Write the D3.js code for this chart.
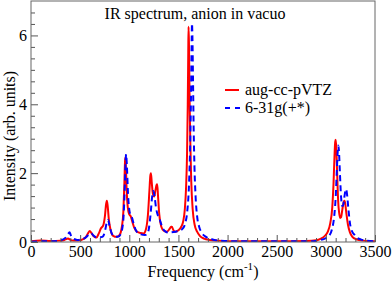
<!DOCTYPE html>
<html>
<head>
<meta charset="utf-8">
<script src="https://cdn.jsdelivr.net/npm/d3@7"></script>
<style>
  body { margin: 0; background: #fff; }
  svg { display: block; }
  svg text { font-family: "Liberation Serif", "DejaVu Serif", serif; }
</style>
</head>
<body>
<div id="chart"></div>
<script>
// IR spectrum data: [frequency cm-1, intensity]
const augccpVTZ = [
  [0, 0.02], [100, 0.04], [200, 0.03], [300, 0.04], [340, 0.06], [365, 0.09], [378, 0.1],
  [395, 0.07], [430, 0.04], [480, 0.04], [530, 0.08], [560, 0.15], [580, 0.25], [598, 0.32],
  [615, 0.26], [640, 0.16], [666, 0.13], [690, 0.25], [712, 0.4], [735, 0.48], [752, 0.75],
  [764, 1.1], [772, 1.2], [780, 1.05], [792, 0.65], [810, 0.35], [836, 0.18], [870, 0.15],
  [900, 0.2], [925, 0.45], [940, 0.9], [950, 1.7], [956, 2.3], [959, 2.45], [964, 2.3],
  [972, 1.6], [985, 1.0], [1000, 0.8], [1014, 0.75], [1028, 0.62], [1050, 0.42], [1080, 0.3],
  [1115, 0.26], [1145, 0.25], [1170, 0.38], [1190, 0.8], [1205, 1.5], [1214, 1.92], [1220, 2.0],
  [1228, 1.75], [1240, 1.4], [1254, 1.32], [1266, 1.5], [1278, 1.66], [1284, 1.68], [1292, 1.35],
  [1305, 0.8], [1325, 0.45], [1350, 0.33], [1383, 0.3], [1410, 0.38], [1425, 0.44], [1433, 0.44],
  [1448, 0.35], [1468, 0.3], [1500, 0.34], [1530, 0.45], [1550, 0.62], [1565, 0.95], [1578, 1.6],
  [1588, 2.6], [1595, 4.0], [1600, 5.5], [1603, 6.25], [1607, 5.8], [1613, 4.3], [1620, 3.0],
  [1630, 1.8], [1645, 0.95], [1665, 0.5], [1690, 0.3], [1720, 0.17], [1760, 0.1], [1820, 0.06],
  [1900, 0.04], [2100, 0.02], [2500, 0.02], [2800, 0.03], [2900, 0.05], [2950, 0.1], [2990, 0.18],
  [3020, 0.3], [3045, 0.55], [3065, 1.0], [3078, 1.7], [3088, 2.5], [3095, 2.9], [3100, 2.97],
  [3106, 2.75], [3115, 2.0], [3125, 1.2], [3135, 0.85], [3145, 0.7], [3155, 0.72], [3168, 0.95],
  [3180, 1.15], [3190, 1.2], [3198, 1.1], [3210, 0.8], [3225, 0.5], [3245, 0.28], [3270, 0.15],
  [3310, 0.08], [3380, 0.04], [3500, 0.02]
];

const basis631g = [
  [0, 0.01], [100, 0.02], [200, 0.02], [300, 0.05], [350, 0.12], [375, 0.22], [392, 0.28],
  [405, 0.2], [430, 0.1], [470, 0.06], [520, 0.08], [560, 0.14], [590, 0.22], [612, 0.26],
  [632, 0.2], [660, 0.14], [684, 0.13], [710, 0.14], [734, 0.17], [755, 0.35], [772, 0.58],
  [784, 0.64], [798, 0.48], [820, 0.26], [850, 0.16], [885, 0.15], [915, 0.25], [938, 0.6],
  [952, 1.4], [962, 2.3], [968, 2.55], [975, 2.25], [987, 1.4], [1003, 0.88], [1018, 0.75],
  [1028, 0.7], [1045, 0.52], [1075, 0.3], [1120, 0.22], [1160, 0.2], [1180, 0.22], [1200, 0.4],
  [1218, 0.85], [1232, 1.3], [1245, 1.48], [1256, 1.35], [1272, 1.0], [1290, 0.78], [1302, 0.73],
  [1318, 0.58], [1340, 0.4], [1370, 0.3], [1400, 0.27], [1430, 0.28], [1470, 0.3], [1510, 0.33],
  [1540, 0.38], [1570, 0.55], [1590, 0.9], [1605, 1.5], [1615, 2.3], [1623, 3.3], [1630, 4.7],
  [1635, 5.9], [1638, 6.35], [1642, 6.0], [1648, 4.8], [1655, 3.3], [1663, 2.2], [1675, 1.3],
  [1690, 0.75], [1710, 0.45], [1740, 0.26], [1780, 0.15], [1840, 0.08], [1920, 0.04], [2100, 0.02],
  [2500, 0.02], [2850, 0.02], [2930, 0.05], [2990, 0.1], [3030, 0.17], [3060, 0.35], [3085, 0.75],
  [3100, 1.3], [3112, 2.1], [3120, 2.6], [3127, 2.8], [3134, 2.6], [3143, 2.0], [3155, 1.3],
  [3165, 1.05], [3175, 1.05], [3188, 1.3], [3200, 1.5], [3207, 1.53], [3215, 1.4], [3228, 1.0],
  [3245, 0.55], [3265, 0.32], [3295, 0.2], [3320, 0.12], [3360, 0.07], [3420, 0.04], [3500, 0.02]
];

const xMajorTicks = [0, 500, 1000, 1500, 2000, 2500, 3000, 3500];
const yMajorTicks = [0, 2, 4, 6];
const seriesNames = ['aug-cc-pVTZ', '6-31g(+*)'];

const width = 392;
const height = 283;
const margin = { top: 1, right: 17, bottom: 41, left: 31 };
const serif = '"Liberation Serif", "DejaVu Serif", serif';

const svg = d3.select('#chart')
  .append('svg')
  .attr('width', width)
  .attr('height', height);

const x = d3.scaleLinear()
  .domain([0, 3500])
  .range([margin.left, width - margin.right]);

const y = d3.scaleLinear()
  .domain([0, 7])
  .range([height - margin.bottom, margin.top]);

// clip for the curves
svg.append('clipPath')
  .attr('id', 'plot-clip')
  .append('rect')
  .attr('x', margin.left)
  .attr('y', margin.top)
  .attr('width', x(3500) - x(0))
  .attr('height', y(0) - y(7));

const line = d3.line()
  .x(d => x(d[0]))
  .y(d => y(d[1]))
  .curve(d3.curveMonotoneX);

// Curves
svg.append('path')
  .datum(augccpVTZ)
  .attr('clip-path', 'url(#plot-clip)')
  .attr('fill', 'none')
  .attr('stroke', '#ff0000')
  .attr('stroke-width', 2)
  .attr('d', line);

svg.append('path')
  .datum(basis631g)
  .attr('clip-path', 'url(#plot-clip)')
  .attr('fill', 'none')
  .attr('stroke', '#0000ff')
  .attr('stroke-width', 2)
  .attr('stroke-dasharray', '6,4')
  .attr('d', line);

// X Axis (ticks pointing inward)
const xMinor = d3.range(0, 3501, 100).filter(v => v % 500 !== 0);
svg.append('g')
  .attr('transform', `translate(0,${y(0)})`)
  .call(d3.axisBottom(x).tickValues(xMinor).tickSize(-4).tickFormat(''))
  .call(g => g.select('.domain').remove());

svg.append('g')
  .attr('transform', `translate(0,${y(0)})`)
  .attr('class', 'major')
  .call(d3.axisBottom(x).tickValues(xMajorTicks).tickSize(-7).tickPadding(4).tickFormat(d3.format('d')))
  .call(g => g.select('.domain').remove())
  .attr('font-family', serif)
  .attr('font-size', 16);

// Y Axis
const yMinor = d3.range(0, 22).map(i => i / 3).filter((v, i) => i % 6 !== 0 && v < 7);
svg.append('g')
  .attr('transform', `translate(${x(0)},0)`)
  .call(d3.axisLeft(y).tickValues(yMinor).tickSize(-4).tickFormat(''))
  .call(g => g.select('.domain').remove());

svg.append('g')
  .attr('transform', `translate(${x(0)},0)`)
  .call(d3.axisLeft(y).tickValues(yMajorTicks).tickSize(-7).tickPadding(4).tickFormat(d3.format('d')))
  .call(g => g.select('.domain').remove())
  .attr('font-family', serif)
  .attr('font-size', 16);

svg.selectAll('.tick line').attr('stroke', '#555');
svg.selectAll('.tick text').attr('fill', '#000');

// Frame
svg.append('rect')
  .attr('x', x(0))
  .attr('y', y(7))
  .attr('width', x(3500) - x(0))
  .attr('height', y(0) - y(7))
  .attr('fill', 'none')
  .attr('stroke', '#666')
  .attr('stroke-width', 1);

// Title
svg.append('text')
  .attr('x', 195)
  .attr('y', 19)
  .attr('text-anchor', 'middle')
  .style('font-size', '16px')
  .text('IR spectrum, anion in vacuo');

// X label
const xLabel = svg.append('text')
  .attr('x', (x(0) + x(3500)) / 2)
  .attr('y', 277)
  .attr('text-anchor', 'middle')
  .style('font-size', '16px');
xLabel.append('tspan').text('Frequency (cm');
xLabel.append('tspan').attr('dy', -7).style('font-size', '11px').text('-1');
xLabel.append('tspan').attr('dy', 7).text(')');

// Y label
svg.append('text')
  .attr('transform', 'rotate(-90)')
  .attr('x', -136)
  .attr('y', 15)
  .attr('text-anchor', 'middle')
  .style('font-size', '16px')
  .text('Intensity (arb. units)');

// Legend
const legend = svg.append('g');
legend.append('line')
  .attr('x1', 225).attr('x2', 239)
  .attr('y1', 90).attr('y2', 90)
  .attr('stroke', '#ff0000').attr('stroke-width', 2);
legend.append('line')
  .attr('x1', 225).attr('x2', 240)
  .attr('y1', 108).attr('y2', 108)
  .attr('stroke', '#0000ff').attr('stroke-width', 2)
  .attr('stroke-dasharray', '5,5');
legend.selectAll('.legend-label')
  .data(seriesNames)
  .enter().append('text')
  .attr('class', 'legend-label')
  .attr('x', 245)
  .attr('y', (d, i) => 95 + i * 18)
  .style('font-size', '16px')
  .text(d => d);
</script>
</body>
</html>
